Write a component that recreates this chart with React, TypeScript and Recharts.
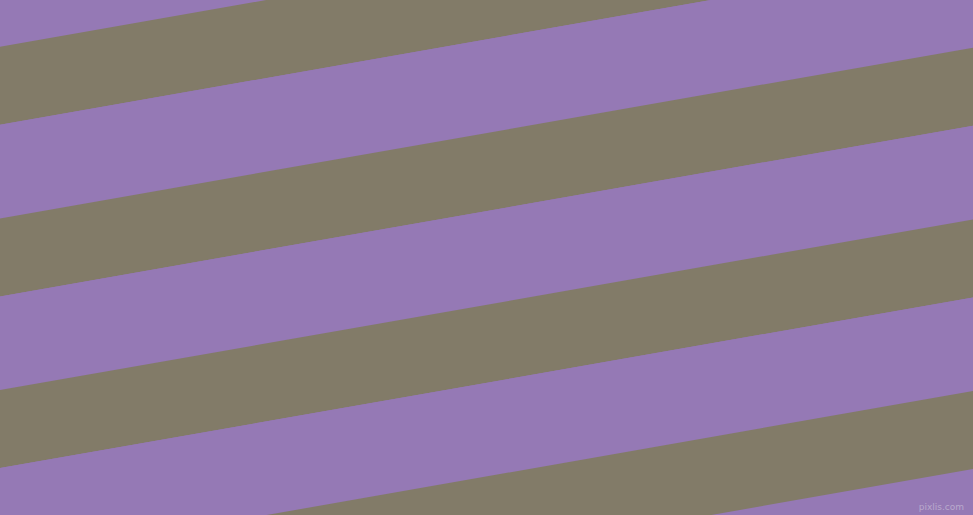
import React from 'react';
import { AreaChart, Area, XAxis, YAxis } from 'recharts';

// x positions (px across the picture) and where the first grey band starts at each
const xs = [0, 973];
const firstStripeTop = [46.7, -124];

// bands stacked downwards from the first stripe top, in px of height
const bandKeys = ['g1', 'p1', 'g2', 'p2', 'g3', 'p3', 'g4'];
const bandSizes = [78, 93.7, 78, 93.7, 78, 93.7, 78];

const PURPLE = '#9579b5';
const GREY = '#827b68';

const data = xs.map((x, i) => {
  const row: Record<string, number> = { x, base: firstStripeTop[i] };
  bandKeys.forEach((k, j) => {
    row[k] = bandSizes[j];
  });
  return row;
});

export default function App() {
  return (
    <div
      style={{
        position: 'absolute',
        left: 0,
        top: 0,
        width: 973,
        height: 515,
        background: PURPLE,
        overflow: 'hidden',
      }}
    >
      <AreaChart width={973} height={515} data={data} margin={{ top: 0, right: 0, bottom: 0, left: 0 }}>
        <XAxis dataKey="x" type="number" domain={[0, 973]} hide />
        <YAxis type="number" domain={[0, 515]} reversed allowDataOverflow hide />
        <Area
          dataKey="base"
          stackId="s"
          type="linear"
          stroke="none"
          fill="none"
          dot={false}
          activeDot={false}
          isAnimationActive={false}
        />
        {bandKeys.map((k) => (
          <Area
            key={k}
            dataKey={k}
            stackId="s"
            type="linear"
            stroke="none"
            fill={k.startsWith('g') ? GREY : PURPLE}
            fillOpacity={1}
            dot={false}
            activeDot={false}
            isAnimationActive={false}
          />
        ))}
      </AreaChart>
      <div
        style={{
          position: 'absolute',
          right: 9,
          bottom: 3,
          fontFamily: 'DejaVu Sans, sans-serif',
          fontSize: 9,
          color: '#b9a9cc',
          lineHeight: 1,
        }}
      >
        pixlis.com
      </div>
    </div>
  );
}
